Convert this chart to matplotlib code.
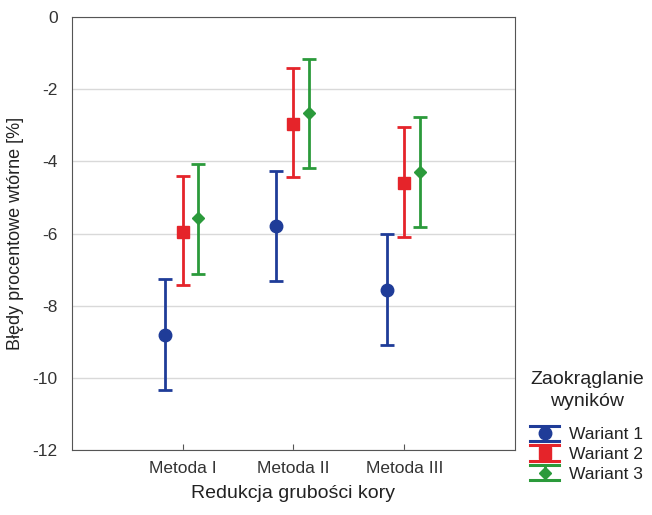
import matplotlib
matplotlib.use('Agg')
import matplotlib.pyplot as plt
from matplotlib.legend_handler import HandlerBase
from matplotlib.container import ErrorbarContainer
from matplotlib.lines import Line2D
import numpy as np

plt.rcParams['font.family'] = ['Liberation Sans', 'DejaVu Sans']
plt.rcParams['axes.unicode_minus'] = False

methods = ['Metoda I', 'Metoda II', 'Metoda III']
variants = ['Wariant 1', 'Wariant 2', 'Wariant 3']
# mean values and interval limits per variant
means = {
    'Wariant 1': [-8.81, -5.79, -7.56],
    'Wariant 2': [-5.96, -2.96, -4.60],
    'Wariant 3': [-5.57, -2.66, -4.29],
}
upper = {
    'Wariant 1': [-7.26, -4.27, -6.01],
    'Wariant 2': [-4.40, -1.41, -3.05],
    'Wariant 3': [-4.07, -1.16, -2.77],
}
lower = {
    'Wariant 1': [-10.33, -7.31, -9.09],
    'Wariant 2': [-7.42, -4.43, -6.09],
    'Wariant 3': [-7.12, -4.18, -5.82],
}

colors = ['#1f3c98', '#e5242a', '#2b9a3b']
markers = ['o', 's', 'D']
msizes = [9, 9, 6]
offsets = [-0.16, 0.0, 0.14]


# legend key: wide caps top and bottom, stem and marker in the middle
class WideCapHandler(HandlerBase):
    def create_artists(self, legend, orig_handle, xdescent, ydescent,
                       width, height, fontsize, trans):
        ln = orig_handle.lines[0]
        c = ln.get_color()
        x0, x1 = -xdescent, -xdescent + width
        xm = (x0 + x1) / 2
        y0, y1 = -ydescent - 0.05 * height, -ydescent + 1.05 * height
        ym = (y0 + y1) / 2
        arts = [
            Line2D([x0, x1], [y0, y0], color=c, lw=2.2),
            Line2D([x0, x1], [y1, y1], color=c, lw=2.2),
            Line2D([xm, xm], [y0, y1], color=c, lw=2),
            Line2D([xm], [ym], marker=ln.get_marker(), ms=ln.get_markersize(),
                   color=c, ls='none'),
        ]
        for a in arts:
            a.set_transform(trans)
        return arts


fig = plt.figure(figsize=(6.52, 5.15), dpi=100)
ax = fig.add_axes([0.110, 0.126, 0.680, 0.841])

x = np.arange(1, len(methods) + 1)
for i, v in enumerate(variants):
    m = np.array(means[v])
    err = [m - np.array(lower[v]), np.array(upper[v]) - m]
    ax.errorbar(x + offsets[i], m, yerr=err, fmt=markers[i], color=colors[i],
                ms=msizes[i], elinewidth=2, capsize=5, capthick=2, label=v)

ax.set_xlim(0, 4)
ax.set_ylim(-12, 0)
ax.set_yticks(np.arange(-12, 1, 2))
ax.set_xticks(x)
ax.set_xticklabels(methods)
ax.yaxis.grid(True, color='#d9d9d9', lw=1)
ax.set_axisbelow(True)
ax.tick_params(axis='x', direction='in', length=4, color='#555555',
               labelsize=12.5, labelcolor='#333333', pad=8)
ax.tick_params(axis='y', length=0, labelsize=12.5, labelcolor='#333333', pad=10)
for s in ax.spines.values():
    s.set_color('#555555')

ax.set_ylabel('Błędy procentowe wtórne [%]', fontsize=13, color='#222222', labelpad=6)
ax.set_xlabel('Redukcja grubości kory', fontsize=14, color='#222222', labelpad=6)

handles, labels = ax.get_legend_handles_labels()
leg = fig.legend(handles, labels, title='Zaokrąglanie\nwyników', loc='lower left',
                 bbox_to_anchor=(0.789, 0.034), frameon=False, fontsize=12.5,
                 title_fontsize=14, handletextpad=0.6, labelspacing=0.22,
                 handlelength=1.65, handleheight=0.85,
                 handler_map={ErrorbarContainer: WideCapHandler()})
leg.get_title().set_multialignment('center')
leg.get_title().set_linespacing(1.35)
leg.get_title().set_color('#222222')
leg._legend_box.align = 'center'
leg._legend_box.sep = 12
for t in leg.get_texts():
    t.set_color('#222222')

fig.savefig('out.png', dpi=100)
